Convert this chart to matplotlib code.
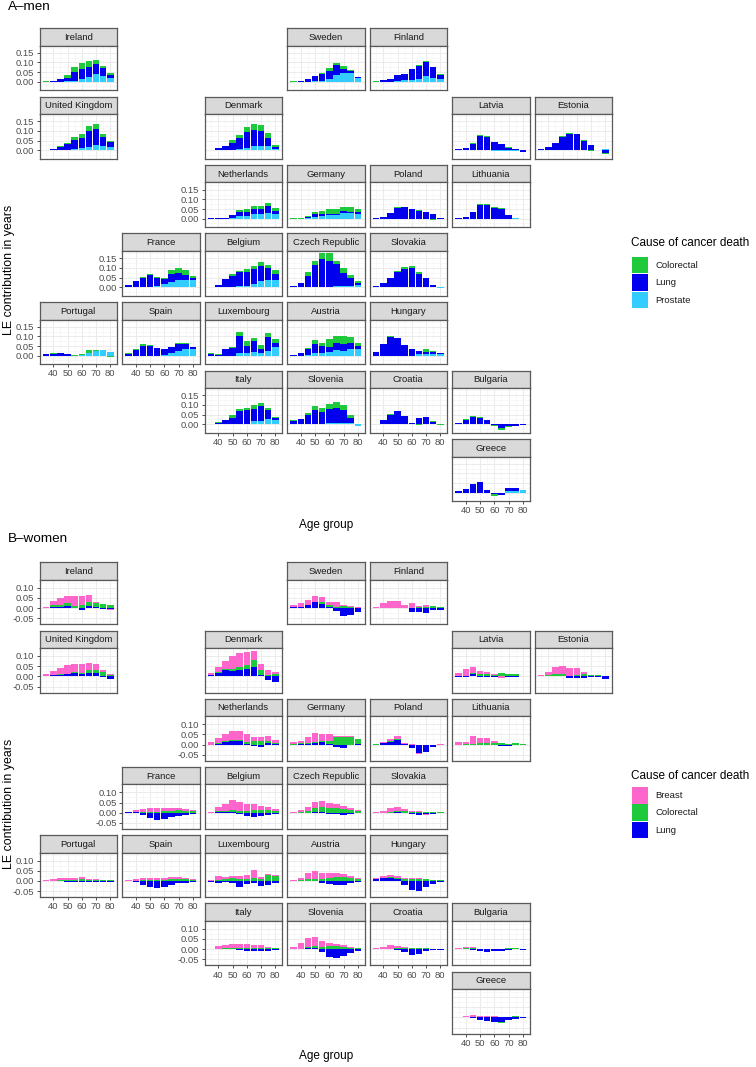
import matplotlib
matplotlib.use("Agg")
import matplotlib.pyplot as plt
from matplotlib.patches import Rectangle
import numpy as np

plt.rcParams['font.family'] = ['Liberation Sans', 'DejaVu Sans']

ages = [35, 40, 45, 50, 55, 60, 65, 70, 75, 80]
x_ticks = [40, 50, 60, 70, 80]
men_yticks = [0.00, 0.05, 0.10, 0.15]
men_yticklabels = ["0.00", "0.05", "0.10", "0.15"]
women_yticks = [-0.05, 0.00, 0.05, 0.10]
women_yticklabels = ["-0.05", "0.00", "0.05", "0.10"]

# geofacet grid: country -> (row, col)
grid = {
    "Ireland": (0, 0), "Sweden": (0, 3), "Finland": (0, 4),
    "United Kingdom": (1, 0), "Denmark": (1, 2), "Latvia": (1, 5), "Estonia": (1, 6),
    "Netherlands": (2, 2), "Germany": (2, 3), "Poland": (2, 4), "Lithuania": (2, 5),
    "France": (3, 1), "Belgium": (3, 2), "Czech Republic": (3, 3), "Slovakia": (3, 4),
    "Portugal": (4, 0), "Spain": (4, 1), "Luxembourg": (4, 2), "Austria": (4, 3), "Hungary": (4, 4),
    "Italy": (5, 2), "Slovenia": (5, 3), "Croatia": (5, 4), "Bulgaria": (5, 5),
    "Greece": (6, 5),
}
y_label_panels = ["Ireland", "United Kingdom", "Netherlands", "France", "Portugal", "Italy"]
x_label_panels = ["Portugal", "Spain", "Italy", "Slovenia", "Croatia", "Greece"]

# ---------------- MEN ----------------
men_colorectal = {
    "Ireland": [0.002, 0.003, 0.003, 0.015, 0.025, 0.03, 0.03, 0.025, 0.01, 0.01],
    "United Kingdom": [0.002, 0, 0.002, 0.008, 0.015, 0.02, 0.025, 0.025, 0.015, 0.007],
    "Sweden": [0.002, 0.002, 0, 0, 0.005, 0.014, 0.014, 0.014, 0.005, 0.004],
    "Finland": [0.002, 0, 0, 0, 0, 0.003, 0.005, 0.003, 0, 0.002],
    "Denmark": [0, 0, 0.004, 0.014, 0.019, 0.027, 0.031, 0.03, 0.028, 0.012],
    "Latvia": [0.001, 0, 0.002, 0.004, 0.005, 0, 0, 0.004, 0, 0],
    "Estonia": [0, 0, 0, 0.003, 0.006, 0.004, 0.002, -0.006, 0, -0.004],
    "Netherlands": [0, 0, 0, 0.002, 0.012, 0.013, 0.017, 0.018, 0.014, 0.014],
    "Germany": [0.002, 0.001, 0.003, 0.012, 0.016, 0.026, 0.025, 0.021, 0.023, 0.019],
    "Poland": [0, 0.002, 0, 0.003, 0.003, 0.003, 0.004, -0.004, -0.005, -0.003],
    "Lithuania": [0, 0, 0, 0.003, 0.003, 0.003, 0.003, 0, 0, 0],
    "France": [0, 0, 0.003, 0.005, 0.004, 0.01, 0.02, 0.03, 0.026, 0.012],
    "Belgium": [0.002, 0, 0.004, 0.007, 0.009, 0.014, 0.016, 0.021, 0.018, 0.018],
    "Czech Republic": [0.002, 0.003, 0.017, 0.021, 0.032, 0.04, 0.018, 0.023, 0.017, 0.012],
    "Slovakia": [0.001, 0, 0.005, 0.006, 0.01, 0.012, 0.01, 0.005, 0, 0],
    "Portugal": [0, 0.004, 0.002, 0, 0.004, 0.002, 0.012, 0.005, 0, -0.002],
    "Spain": [0.003, 0.005, 0.008, 0.005, 0.002, 0, 0, 0.004, 0.005, 0.002],
    "Luxembourg": [0.004, 0.006, 0.002, 0.003, 0.02, 0.027, 0.016, 0.022, 0.02, 0.023],
    "Austria": [0, 0, 0.004, 0.017, 0.02, 0.045, 0.034, 0.037, 0.028, 0.012],
    "Hungary": [0, 0, 0.005, 0, 0, 0, 0.004, 0.012, 0.003, 0.001],
    "Italy": [0, 0.004, 0.003, 0.012, 0.011, 0.01, 0.018, 0.019, 0.012, 0.007],
    "Slovenia": [0.002, 0, 0.006, 0.018, 0.022, 0.025, 0.03, 0.021, 0.016, 0],
    "Croatia": [0.002, 0, 0.003, 0, 0, 0, -0.004, 0.002, 0.005, -0.003],
    "Bulgaria": [0, 0.003, 0.004, 0.003, 0, -0.006, -0.006, -0.004, 0.002, 0],
    "Greece": [0, 0, 0, 0, 0, -0.008, 0, -0.003, 0, 0],
}
men_lung = {
    "Ireland": [0, 0.002, 0.012, 0.018, 0.045, 0.05, 0.05, 0.05, 0.04, 0.015],
    "United Kingdom": [0, 0.008, 0.018, 0.03, 0.05, 0.055, 0.085, 0.085, 0.05, 0.025],
    "Sweden": [0, 0.003, 0.012, 0.026, 0.033, 0.045, 0.048, 0.023, 0.008, 0.004],
    "Finland": [0, 0.006, 0.012, 0.03, 0.034, 0.054, 0.066, 0.072, 0.056, 0.024],
    "Denmark": [0.002, 0.012, 0.02, 0.035, 0.057, 0.081, 0.087, 0.08, 0.042, 0.009],
    "Latvia": [0.004, 0.012, 0.033, 0.074, 0.068, 0.04, 0.03, 0.01, 0.004, -0.008],
    "Estonia": [0.008, 0.014, 0.038, 0.07, 0.084, 0.082, 0.05, 0.026, 0.002, -0.016],
    "Netherlands": [0.002, 0.002, 0.005, 0.015, 0.017, 0.02, 0.025, 0.023, 0.037, 0.015],
    "Germany": [0, 0, 0.008, 0.013, 0.012, 0.007, 0.007, 0.012, 0.007, 0.006],
    "Poland": [0.002, 0.008, 0.03, 0.055, 0.06, 0.048, 0.042, 0.033, 0.026, 0.003],
    "Lithuania": [0.002, 0.01, 0.035, 0.072, 0.072, 0.057, 0.05, 0.02, 0, -0.004],
    "France": [0.01, 0.03, 0.048, 0.06, 0.045, 0.026, 0.04, 0.035, 0.028, 0.011],
    "Belgium": [0, 0.01, 0.04, 0.06, 0.072, 0.073, 0.075, 0.079, 0.061, 0.031],
    "Czech Republic": [0.005, 0.02, 0.058, 0.114, 0.143, 0.133, 0.115, 0.07, 0.038, 0.011],
    "Slovakia": [0.005, 0.02, 0.045, 0.08, 0.095, 0.1, 0.07, 0.045, 0.008, -0.002],
    "Portugal": [0.006, 0.01, 0.012, 0.006, -0.004, -0.004, -0.004, 0, 0, -0.003],
    "Spain": [0.01, 0.03, 0.05, 0.05, 0.04, 0.03, 0.035, 0.037, 0.031, 0.01],
    "Luxembourg": [0.01, 0.002, 0.035, 0.042, 0.09, 0.038, 0.057, 0.02, 0.07, 0.022],
    "Austria": [0.002, 0.015, 0.035, 0.047, 0.032, 0.023, 0.037, 0.04, 0.034, 0.018],
    "Hungary": [0.02, 0.06, 0.098, 0.09, 0.055, 0.035, 0.016, 0.012, 0.01, 0.006],
    "Italy": [0, 0.008, 0.02, 0.034, 0.066, 0.073, 0.065, 0.074, 0.046, 0.011],
    "Slovenia": [0.018, 0.028, 0.05, 0.072, 0.06, 0.076, 0.078, 0.068, 0.026, -0.004],
    "Croatia": [0, 0.023, 0.05, 0.067, 0.042, 0.004, 0.03, 0.037, 0.012, 0.003],
    "Bulgaria": [0.004, 0.022, 0.036, 0.034, 0.023, -0.002, -0.022, -0.012, -0.01, -0.006],
    "Greece": [0.008, 0.02, 0.045, 0.055, 0.015, -0.008, -0.01, 0.015, 0.015, -0.003],
}
men_prostate = {
    "Ireland": [0, 0, 0, 0.002, 0.005, 0.015, 0.025, 0.04, 0.03, 0.02],
    "United Kingdom": [0, 0, 0, 0, 0.005, 0.01, 0.015, 0.025, 0.02, 0.015],
    "Sweden": [0, 0, 0, 0.002, 0.005, 0.012, 0.036, 0.043, 0.047, 0.018],
    "Finland": [0, 0, 0, 0.004, 0.006, 0.01, 0.015, 0.03, 0.02, 0.012],
    "Denmark": [0, 0, 0, 0.003, 0.005, 0.012, 0.02, 0.02, 0.02, 0.005],
    "Latvia": [0, 0, 0, 0.002, 0.002, -0.003, -0.003, -0.004, -0.002, 0.003],
    "Estonia": [0, 0, 0, 0, 0, 0, 0, 0, 0.001, 0.004],
    "Netherlands": [0, 0, 0, 0.003, 0.016, 0.015, 0.025, 0.025, 0.028, 0.025],
    "Germany": [0, 0, 0.002, 0.01, 0.014, 0.018, 0.019, 0.028, 0.03, 0.026],
    "Poland": [0, 0, 0, 0, 0, 0, 0, 0, 0, 0],
    "Lithuania": [0, 0, 0, 0, 0, 0, 0, 0, 0.003, 0],
    "France": [0.002, 0, 0, 0.003, 0.005, 0.014, 0.028, 0.037, 0.037, 0.035],
    "Belgium": [0, 0, 0, 0, 0.005, 0.008, 0.018, 0.032, 0.037, 0.039],
    "Czech Republic": [0, 0, 0.002, 0.002, 0.003, 0.003, 0.004, 0.005, 0.008, 0.01],
    "Slovakia": [0, 0, 0, 0, 0, 0, 0, 0, 0.002, -0.003],
    "Portugal": [0, 0, 0, 0, 0, 0.004, 0.015, 0.025, 0.03, 0.02],
    "Spain": [0, 0, 0, 0, 0, 0.003, 0.012, 0.023, 0.032, 0.033],
    "Luxembourg": [0, 0, 0, 0, 0.012, 0.012, 0.02, 0.012, 0.026, 0.043],
    "Austria": [0, 0, 0.002, 0.016, 0.016, 0.02, 0.029, 0.023, 0.034, 0.034],
    "Hungary": [0, 0, 0, 0, 0, 0, 0.006, 0.008, 0.01, 0.008],
    "Italy": [0, 0, 0, 0, 0, 0.003, 0.016, 0.018, 0.028, 0.021],
    "Slovenia": [0, 0, 0, 0.002, 0.003, 0.005, 0.007, 0.008, 0.006, -0.008],
    "Croatia": [0, 0, 0, 0, 0, 0, 0, 0, 0, 0],
    "Bulgaria": [0, 0, 0, 0, 0, 0, 0, 0, 0, 0.003],
    "Greece": [0, 0, 0, 0, 0, 0, 0, 0.008, 0.008, 0.012],
}

# ---------------- WOMEN ----------------
women_breast = {
    "Ireland": [0.005, 0.018, 0.033, 0.038, 0.05, 0.046, 0.036, 0.008, 0.003, -0.004],
    "United Kingdom": [0.009, 0.02, 0.03, 0.043, 0.039, 0.041, 0.031, 0.026, 0.013, 0.003],
    "Sweden": [0.011, 0.016, 0.026, 0.031, 0.028, 0.016, 0.021, 0.006, 0.007, 0.003],
    "Finland": [0.005, 0.023, 0.034, 0.034, 0.012, 0.023, 0.007, 0.01, 0, 0],
    "Denmark": [0.01, 0.021, 0.039, 0.062, 0.067, 0.061, 0.047, 0.029, 0.026, 0.012],
    "Latvia": [0.015, 0.034, 0.028, 0.018, 0.013, 0.006, -0.007, 0, 0, 0.002],
    "Estonia": [0.004, 0.018, 0.036, 0.04, 0.04, 0.031, 0.011, 0, 0, 0],
    "Netherlands": [0.015, 0.022, 0.036, 0.043, 0.045, 0.037, 0.022, 0.022, 0.025, 0.013],
    "Germany": [0.007, 0.012, 0.028, 0.044, 0.032, 0.032, 0.004, 0.005, 0.005, 0],
    "Poland": [0, 0.006, 0.01, 0.015, 0.004, 0.002, -0.005, -0.002, -0.004, 0.004],
    "Lithuania": [0.011, 0.012, 0.036, 0.025, 0.022, 0.008, 0, 0, 0, 0],
    "France": [0.003, 0.008, 0.015, 0.02, 0.018, 0.015, 0.012, 0.01, 0.008, 0.005],
    "Belgium": [0.005, 0.02, 0.035, 0.05, 0.045, 0.035, 0.03, 0.02, 0.015, 0.01],
    "Czech Republic": [0.003, 0.01, 0.02, 0.03, 0.03, 0.025, 0.02, 0.015, 0.01, 0.005],
    "Slovakia": [0.003, 0.008, 0.02, 0.022, 0.01, 0.005, 0.004, -0.008, -0.003, 0],
    "Portugal": [0.003, 0.008, 0.012, 0.01, 0.008, 0.01, 0.005, 0.004, 0.003, 0],
    "Spain": [0.003, 0.008, 0.01, 0.01, 0.012, 0.01, 0.01, 0.008, 0.005, 0.003],
    "Luxembourg": [0.005, 0.02, 0.01, 0.01, 0.015, 0.02, 0.04, 0.01, 0.003, 0.005],
    "Austria": [0.003, 0.01, 0.03, 0.035, 0.03, 0.025, 0.02, 0.015, 0.01, 0.005],
    "Hungary": [0.004, 0.008, 0.01, 0.01, 0.008, 0.005, 0.003, 0.002, 0, 0],
    "Italy": [0, 0.012, 0.015, 0.018, 0.018, 0.015, 0.012, 0.01, 0.006, 0.003],
    "Slovenia": [0.01, 0.025, 0.04, 0.045, 0.03, 0.015, 0.01, 0.008, 0.005, 0],
    "Croatia": [0.005, 0.012, 0.015, 0.012, 0.008, 0.004, 0.003, 0, 0, 0],
    "Bulgaria": [0.005, 0.005, 0.005, 0, 0, 0, 0, 0, 0, 0],
    "Greece": [0.003, 0.008, 0.01, 0.008, 0.008, 0.006, 0.004, 0, 0, 0],
}
women_colorectal = {
    "Ireland": [0, 0.008, 0.008, 0.012, 0.008, 0.015, 0.018, 0.015, 0.018, 0.016],
    "United Kingdom": [0.002, 0.003, 0.004, 0.003, 0.005, 0.008, 0.018, 0.018, 0.02, 0.008],
    "Sweden": [0, 0.002, 0, 0.002, 0.008, 0.009, 0.007, 0.009, 0.004, 0.003],
    "Finland": [0, 0, 0, 0, 0.003, 0, 0.004, 0.006, 0.011, 0.006],
    "Denmark": [0, 0.005, 0.008, 0.01, 0.018, 0.019, 0.035, 0.028, 0.007, 0.011],
    "Latvia": [0, 0.002, 0.007, 0.01, 0.01, 0.005, 0.018, 0.013, 0.012, 0],
    "Estonia": [0.004, 0.005, 0.01, 0.007, 0.003, 0.008, 0.01, 0.005, 0.007, 0.002],
    "Netherlands": [0, 0.004, 0.007, 0.005, 0.005, 0.008, 0.016, 0.016, 0.008, 0.006],
    "Germany": [0.004, 0.003, 0.006, 0.003, 0.007, 0.013, 0.038, 0.036, 0.035, 0.024],
    "Poland": [0.002, 0, 0.004, 0.005, 0, 0, 0, 0, 0, 0],
    "Lithuania": [0, 0.003, 0.005, 0.008, 0.008, 0.008, 0.008, 0.005, 0.01, 0.002],
    "France": [0, 0.002, 0.003, 0.004, 0.005, 0.008, 0.01, 0.012, 0.01, 0.008],
    "Belgium": [0, 0.004, 0.005, 0.01, 0.01, 0.01, 0.012, 0.015, 0.012, 0.01],
    "Czech Republic": [0, 0.003, 0.01, 0.02, 0.025, 0.025, 0.025, 0.02, 0.015, 0.01],
    "Slovakia": [0, 0, 0.005, 0.005, 0.008, 0.006, 0.004, 0.005, 0.004, 0.003],
    "Portugal": [0, 0.002, 0.003, 0.005, 0.006, 0.008, 0.006, 0.005, 0.004, 0.003],
    "Spain": [0, 0, 0.003, 0.004, 0.005, 0.006, 0.008, 0.01, 0.008, 0.005],
    "Luxembourg": [0, 0.003, 0.01, 0.015, 0.01, 0.01, 0.015, 0.01, 0.03, 0.025],
    "Austria": [0, 0.003, 0.008, 0.01, 0.01, 0.015, 0.02, 0.02, 0.015, 0.01],
    "Hungary": [0, 0.002, 0.003, 0.005, 0.008, 0.01, 0.01, 0.008, 0.006, 0.003],
    "Italy": [0, 0.003, 0.005, 0.006, 0.007, 0.008, 0.008, 0.008, 0.006, 0.004],
    "Slovenia": [0, 0.003, 0.008, 0.012, 0.012, 0.015, 0.015, 0.012, 0.008, 0.005],
    "Croatia": [0, 0, 0.003, 0.004, 0.004, 0.004, 0.004, 0.004, 0.003, 0.002],
    "Bulgaria": [0.003, 0.005, 0.005, 0.003, 0.002, 0, 0.002, 0.004, 0.004, 0.002],
    "Greece": [0, 0, 0, 0, 0, 0, -0.003, 0.004, 0.005, 0.003],
}
women_lung = {
    "Ireland": [0, 0.007, 0.007, 0.011, 0.003, -0.008, 0.01, 0.008, -0.003, -0.006],
    "United Kingdom": [0.002, 0.005, 0.007, 0.01, 0.015, 0.01, 0.015, 0.015, -0.002, -0.011],
    "Sweden": [0.004, 0.005, 0.015, 0.028, 0.02, 0.006, -0.013, -0.04, -0.033, -0.021],
    "Finland": [0.003, 0.002, 0.002, 0.002, 0, -0.018, -0.018, -0.023, -0.01, -0.008],
    "Denmark": [0.008, 0.018, 0.03, 0.028, 0.03, 0.038, 0.044, 0.005, -0.016, -0.03],
    "Latvia": [-0.003, -0.003, 0.011, -0.003, -0.003, -0.003, 0, -0.003, -0.003, 0],
    "Estonia": [0, 0, 0, 0.004, -0.008, -0.008, -0.006, -0.005, -0.002, -0.011],
    "Netherlands": [0, 0.004, 0.011, 0.018, 0.016, 0.005, -0.005, -0.01, 0.008, 0.004],
    "Germany": [0, 0.003, 0.004, 0.01, 0.011, 0.005, -0.01, -0.016, -0.004, 0.002],
    "Poland": [0, 0.006, 0.014, 0.02, 0.005, -0.018, -0.042, -0.034, -0.01, -0.004],
    "Lithuania": [0, 0, -0.003, -0.004, -0.003, -0.004, -0.005, -0.005, -0.003, -0.002],
    "France": [0.002, 0.004, -0.01, -0.025, -0.035, -0.03, -0.02, -0.015, -0.012, -0.008],
    "Belgium": [0, 0.004, 0.005, 0.005, -0.005, -0.015, -0.02, -0.015, -0.012, -0.008],
    "Czech Republic": [0, 0, 0, 0.005, 0.005, -0.005, -0.008, -0.01, -0.005, -0.003],
    "Slovakia": [0, 0, 0, 0.003, -0.003, -0.005, -0.01, -0.005, -0.004, -0.002],
    "Portugal": [0, 0, 0, -0.005, -0.006, -0.004, -0.005, -0.006, -0.005, -0.004],
    "Spain": [0, -0.005, -0.018, -0.03, -0.032, -0.028, -0.02, -0.012, -0.008, -0.004],
    "Luxembourg": [-0.005, -0.01, -0.005, -0.012, -0.03, -0.015, -0.01, -0.025, -0.02, -0.01],
    "Austria": [0, 0, 0, 0.002, -0.01, -0.015, -0.02, -0.02, -0.01, -0.005],
    "Hungary": [0.01, 0.015, 0.015, 0.008, -0.02, -0.045, -0.05, -0.03, -0.015, -0.005],
    "Italy": [0, 0, 0.002, 0, -0.005, -0.008, -0.01, -0.01, -0.008, -0.005],
    "Slovenia": [0, 0, 0.005, 0.005, -0.015, -0.04, -0.045, -0.035, -0.02, -0.01],
    "Croatia": [0, 0, 0, -0.005, -0.015, -0.03, -0.025, -0.01, -0.005, -0.002],
    "Bulgaria": [0, 0, -0.002, -0.008, -0.012, -0.01, -0.008, -0.003, 0, -0.003],
    "Greece": [0, 0, -0.005, -0.015, -0.02, -0.025, -0.025, -0.015, -0.01, -0.005],
}

COL_GREEN = "#1fc93c"
COL_BLUE = "#0000ee"
COL_LBLUE = "#33ccff"
COL_PINK = "#ff66cc"

# stacking order bottom -> top
men_series = [("Prostate", men_prostate, COL_LBLUE), ("Lung", men_lung, COL_BLUE),
              ("Colorectal", men_colorectal, COL_GREEN)]
women_series = [("Lung", women_lung, COL_BLUE), ("Colorectal", women_colorectal, COL_GREEN),
                ("Breast", women_breast, COL_PINK)]
men_legend = [("Colorectal", COL_GREEN), ("Lung", COL_BLUE), ("Prostate", COL_LBLUE)]
women_legend = [("Breast", COL_PINK), ("Colorectal", COL_GREEN), ("Lung", COL_BLUE)]

W, H = 756, 1067
fig = plt.figure(figsize=(W / 100, H / 100), dpi=100)


def add_ax(x, y, w, h):
    return fig.add_axes([x / W, 1 - (y + h) / H, w / W, h / H])


def ftext(x, y, s, **kw):
    fig.text(x / W, 1 - y / H, s, **kw)


COL_X0, COL_PITCH, PANEL_W = 39.5, 82.5, 77.5
STRIP_H, PLOT_H = 17.5, 44.5
XLIM = (30.3, 84.7)
BORDER = "#595959"
TXT = 6.8


def draw_block(top0, pitch, series, ylim, yticks, yticklabels, yminor):
    for country, (r, c) in grid.items():
        x0 = COL_X0 + COL_PITCH * c
        y0 = top0 + pitch * r
        sax = add_ax(x0, y0, PANEL_W, STRIP_H)
        sax.set_facecolor("#d9d9d9")
        sax.set_xticks([]); sax.set_yticks([])
        for sp in sax.spines.values():
            sp.set_color(BORDER); sp.set_linewidth(0.9)
        sax.text(0.5, 0.47, country, ha="center", va="center", fontsize=TXT,
                 color="#1a1a1a", transform=sax.transAxes)

        ax = add_ax(x0, y0 + STRIP_H, PANEL_W, PLOT_H)
        ax.set_xlim(*XLIM); ax.set_ylim(*ylim)
        ax.set_axisbelow(True)
        ax.set_xticks(x_ticks)
        ax.set_xticks([35, 45, 55, 65, 75], minor=True)
        ax.set_yticks(yticks)
        ax.set_yticks(yminor, minor=True)
        ax.grid(which="major", color="#ebebeb", linewidth=0.7)
        ax.grid(which="minor", color="#f3f3f3", linewidth=0.4)
        for sp in ax.spines.values():
            sp.set_color(BORDER); sp.set_linewidth(0.9)
        ax.tick_params(which="minor", length=0)
        show_y = country in y_label_panels
        show_x = country in x_label_panels
        ax.tick_params(axis="y", which="major", length=2.3 if show_y else 0, width=0.6,
                       color="#333333", labelleft=show_y, labelsize=TXT,
                       labelcolor="#4d4d4d", pad=1.5)
        ax.tick_params(axis="x", which="major", length=2.3 if show_x else 0, width=0.6,
                       color="#333333", labelbottom=show_x, labelsize=TXT,
                       labelcolor="#4d4d4d", pad=1.5)
        if show_y:
            ax.set_yticklabels(yticklabels)
        pos = np.zeros(len(ages)); neg = np.zeros(len(ages))
        for name, data, col in series:
            v = np.array(data[country], dtype=float)
            base = np.where(v >= 0, pos, neg)
            ax.bar(ages, v, width=4.5, bottom=base, color=col, linewidth=0)
            pos = pos + np.where(v >= 0, v, 0)
            neg = neg + np.where(v < 0, v, 0)


# ---- men ----
ftext(8, 7, "A\u2013men", fontsize=9.7, va="center", ha="left", color="black")
draw_block(28, 68.5, men_series, (-0.0435, 0.188), men_yticks, men_yticklabels,
           [-0.025, 0.025, 0.075, 0.125, 0.175])
ftext(326, 525, "Age group", fontsize=8.5, ha="center", va="center")
ftext(9, 270, "LE contribution in years", fontsize=8.9, ha="center", va="center", rotation=90)

# ---- women ----
ftext(8, 539, "B\u2013women", fontsize=9.7, va="center", ha="left", color="black")
draw_block(562.3, 68.2, women_series, (-0.079, 0.139), women_yticks, women_yticklabels,
           [-0.075, -0.025, 0.025, 0.075, 0.125])
ftext(326, 1056, "Age group", fontsize=8.5, ha="center", va="center")
ftext(9, 804, "LE contribution in years", fontsize=8.9, ha="center", va="center", rotation=90)


def draw_legend(title_y, key_y0, items):
    ftext(631, title_y, "Cause of cancer death", fontsize=8.5, ha="left", va="center")
    for i, (lab, col) in enumerate(items):
        ky = key_y0 + 17.3 * i
        fig.add_artist(Rectangle((631.5 / W, 1 - (ky + 16.5) / H), 16 / W, 16.5 / H,
                                 transform=fig.transFigure, facecolor=col, edgecolor="none"))
        ftext(655, ky + 8.5, lab, fontsize=TXT, ha="left", va="center", color="#1a1a1a")


draw_legend(243, 257, men_legend)
draw_legend(776, 787, women_legend)

fig.savefig("out.png", dpi=100, facecolor="white")
